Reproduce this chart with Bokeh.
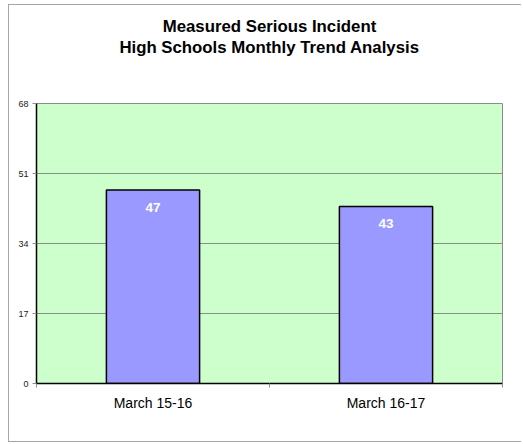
from bokeh.plotting import figure
from bokeh.models import (ColumnDataSource, Range1d, LinearAxis,
                          FixedTicker, LabelSet, Title)
from bokeh.core.properties import value
from bokeh.embed import file_html
from bokeh.resources import INLINE

categories = ["March 15-16", "March 16-17"]
values = [47, 43]
y_ticks = [0, 17, 34, 51, 68]
title_lines = ["Measured Serious Incident", "High Schools Monthly Trend Analysis"]

FONT = "Liberation Sans"
FW, FH = 466, 280

n = len(categories)
centers = [i + 0.5 for i in range(n)]
src = ColumnDataSource(dict(x=centers, val=values,
                            lbl=[str(v) for v in values]))

p = figure(x_range=Range1d(0, n), y_range=Range1d(0, 68),
           frame_width=FW, frame_height=FH,
           min_border_left=27, min_border_right=19,
           min_border_top=98, min_border_bottom=58,
           x_axis_location=None, title=None,
           output_backend="svg", toolbar_location=None, tools="")
p.styles = {"margin-left": "8px", "margin-top": "4px",
            "border-left": "1px solid #a6a6a6",
            "border-top": "1px solid #a6a6a6",
            "border-bottom": "1px solid #a6a6a6",
            "border-right": "none"}

p.background_fill_color = "#CCFFCC"
p.border_fill_color = "white"
p.outline_line_color = "#8c8c8c"
p.outline_line_width = 1

# title: spacer nearest the frame, then the two centred lines
p.add_layout(Title(text=" ", text_font_size="1px", standoff=44), "above")
for line in reversed(title_lines):
    p.add_layout(Title(text=line, align="center", text_font=FONT,
                       text_font_size="16.8px", text_font_style="bold",
                       text_color="black", standoff=0), "above")

p.vbar(x="x", top="val", width=0.4, source=src,
       fill_color="#9999FF", line_color="black", line_width=1.5)

labels = LabelSet(x="x", y="val", text="lbl", source=src,
                  text_align="center", text_baseline="top", y_offset=-13,
                  text_color="white", text_font=value(FONT),
                  text_font_size="13.5px", text_font_style="bold")
p.add_layout(labels)

# y axis
ya = p.yaxis[0]
ya.ticker = FixedTicker(ticks=y_ticks)
ya.axis_line_color = "black"
ya.axis_line_width = 1.5
ya.major_tick_line_color = "#8c8c8c"
ya.major_tick_in = 0
ya.major_tick_out = 4
ya.minor_tick_line_color = None
ya.major_label_text_font = FONT
ya.major_label_text_font_size = "9px"
ya.major_label_text_color = "#222222"
ya.major_label_standoff = 4

p.ygrid.ticker = FixedTicker(ticks=y_ticks)
p.ygrid.grid_line_color = "#8c8c8c"
p.ygrid.grid_line_width = 1
p.xgrid.grid_line_color = None

# boundary ticks on x
bounds = list(range(n + 1))
xa_ticks = LinearAxis(ticker=FixedTicker(ticks=bounds))
xa_ticks.axis_line_color = "black"
xa_ticks.axis_line_width = 1.5
xa_ticks.major_tick_line_color = "#8c8c8c"
xa_ticks.major_tick_in = 0
xa_ticks.major_tick_out = 4
xa_ticks.minor_tick_line_color = None
xa_ticks.major_label_overrides = {b: "" for b in bounds}
xa_ticks.major_label_text_font_size = "1px"
xa_ticks.major_label_standoff = 0
p.add_layout(xa_ticks, "below")

# category labels
xa = LinearAxis(ticker=FixedTicker(ticks=centers))
xa.axis_line_color = None
xa.major_tick_line_color = None
xa.minor_tick_line_color = None
xa.major_label_overrides = {c: name for c, name in zip(centers, categories)}
xa.major_label_text_font = FONT
xa.major_label_text_font_size = "14px"
xa.major_label_text_color = "black"
xa.major_label_standoff = 1
p.add_layout(xa, "below")

open("out.html", "w").write(file_html(p, INLINE))
